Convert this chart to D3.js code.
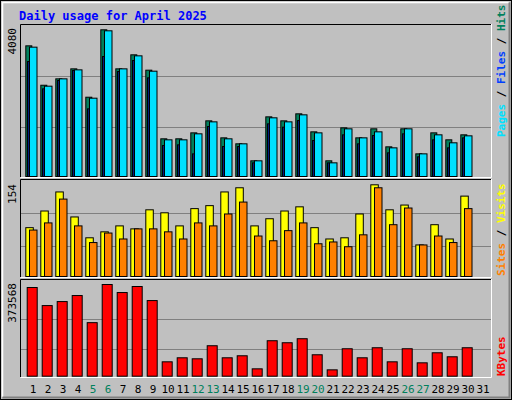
<!DOCTYPE html><html><head><meta charset="utf-8">
<script src="https://cdn.jsdelivr.net/npm/d3@7"></script>
<style>body{margin:0;background:#fff}svg{display:block}text{font-family:"DejaVu Sans Mono",monospace}</style>
</head><body><svg id="c" width="512" height="400"></svg>
<script>
const days = d3.range(1, 32);
const weekend = [5,6,12,13,19,20,26,27];
const hits  = [3634,2538,2716,2994,2205,4080,2994,3384,2957,1048,1048,1214,1548,1075,909,436,1659,1548,1743,1242,436,1353,1075,1326,825,1326,630,1214,1020,1159];
const pages = [3597,2512,2716,2966,2178,4052,2994,3356,2929,1020,1020,1187,1520,1048,909,436,1632,1520,1715,1214,380,1326,1075,1242,797,1326,630,1159,937,1131];
const files = [3198,2438,2670,2948,1882,3337,2920,3226,2744,862,881,630,1390,834,834,380,1465,1372,1557,1001,380,1159,909,1140,659,1187,548,1020,797,1075];
const visits = [82,110,142,100,65,75,85,80,112,107,85,114,119,142,149,85,97,110,117,82,63,65,105,154,112,120,53,87,63,135];
const sites  = [78,90,130,85,57,73,63,80,80,75,63,90,85,105,125,68,60,77,90,55,58,50,70,149,87,115,53,68,57,114];
const kbytes = [361300,287700,304000,328600,218100,373568,340800,365400,308100,58600,75000,70900,124100,75000,83200,30000,144500,136300,152700,87300,25900,111800,75000,115900,58600,111800,54500,95400,79100,115900];
const maxLabels = ["4080","154","373568"];
const grid1 = [1360,2780], grid2 = [51,105], grid3 = [110200,230300];

const svg = d3.select("#c");
// outer frame
svg.append("rect").attr("x",0).attr("y",0).attr("width",512).attr("height",400).attr("fill","#c0c0c0");
svg.append("rect").attr("x",0.5).attr("y",0.5).attr("width",511).attr("height",399).attr("fill","none").attr("stroke","#000");
svg.append("path").attr("d","M2.5,397V2.5H509").attr("fill","none").attr("stroke","#fff").attr("stroke-width",1.5);
svg.append("path").attr("d","M2.5,397.5H509.5V2.5").attr("fill","none").attr("stroke","#808080").attr("stroke-width",2);
svg.append("text").attr("x",19).attr("y",20).attr("fill","#0000ff").attr("font-weight","bold").attr("font-size",12).text("Daily usage for April 2025");

const x = d3.scaleBand().domain(days).range([24,489]);
const X = i => x(i+1);

function panel(y0,y1){
  svg.append("path").attr("d",`M20.5,${y1}V${y0}.5H491`).attr("fill","none").attr("stroke","#000");
  svg.append("path").attr("d",`M20.5,${y1}.5H491.5V${y0}`).attr("fill","none").attr("stroke","#fff");
}
function grid(y,vals){
  vals.forEach(v=>svg.append("line").attr("x1",21).attr("x2",491).attr("y1",Math.round(y(v))+0.5).attr("y2",Math.round(y(v))+0.5).attr("stroke","#808080"));
}
function bars(data,y,dx,w,col){
  svg.append("g").selectAll("rect").data(data).join("rect")
    .attr("x",(d,i)=>X(i)+dx+0.5).attr("y",d=>y(d)+0.5).attr("width",w).attr("height",d=>y(0)-y(d))
    .attr("fill",col).attr("stroke","#000");
}
function ylab(txt,y){
  svg.append("text").attr("transform",`translate(16,${y}) rotate(-90)`).attr("text-anchor","end").attr("font-size",11).attr("fill","#000").text(txt);
}
function rlab(parts,y){
  const t = svg.append("text").attr("transform",`translate(505,${y}) rotate(-90)`).attr("font-size",11).attr("font-weight","bold");
  parts.forEach(p=>t.append("tspan").attr("fill",p[1]).text(p[0]));
}

// panel 1
const y1 = d3.scaleLinear().domain([0,4080]).range([176,29.3]);
panel(24,177); grid(y1,grid1);
bars(hits,y1,1.3,6,"#00805c");
bars(pages,y1,5,7.5,"#00e0ff");
bars(files,y1,3,1.5,"#0040ff");
ylab(maxLabels[0],28);
rlab([["Pages","#00e0ff"],[" / ","#000"],["Files","#0040ff"],[" / ","#000"],["Hits","#00805c"]],137);

// panel 2
const y2 = d3.scaleLinear().domain([0,154]).range([276,184.3]);
panel(179,277); grid(y2,grid2);
bars(visits,y2,1.3,7.5,"#ffff00");
bars(sites,y2,5,7.5,"#ff8000");
ylab(maxLabels[1],184);
rlab([["Sites","#ff8000"],[" / ","#000"],["Visits","#ffff00"]],276);

// panel 3
const y3 = d3.scaleLinear().domain([0,373568]).range([375.7,284]);
panel(279,377); grid(y3,grid3);
bars(kbytes,y3,2.7,10,"#ff0000");
ylab(maxLabels[2],283);
rlab([["KBytes","#ff0000"]],376);

// x labels
svg.append("g").selectAll("text").data(days).join("text")
  .attr("x",d=>x(d)+x.bandwidth()/2+1.5).attr("y",393).attr("text-anchor","middle").attr("font-size",11)
  .attr("fill",d=>weekend.includes(d)?"#00805c":"#000").text(d=>d);
</script></body></html>
